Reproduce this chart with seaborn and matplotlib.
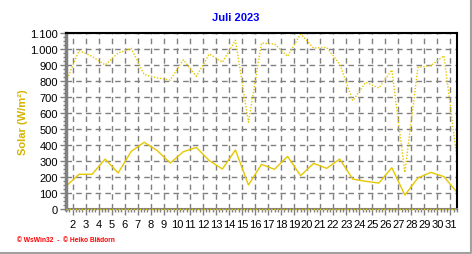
import matplotlib
matplotlib.use("Agg")
import matplotlib.pyplot as plt
from matplotlib.ticker import FixedLocator, MultipleLocator, FuncFormatter
from matplotlib.lines import Line2D
import seaborn as sns
import pandas as pd

days = list(range(1, 32))
solar_avg = [142, 217, 217, 312, 225, 360, 417, 365, 287, 358, 385, 302, 250, 369, 150,
             279, 248, 329, 208, 285, 254, 312, 187, 173, 162, 258, 87, 194, 229, 202, 104]
solar_max = [796, 990, 954, 900, 975, 1004, 840, 819, 806, 933, 829, 969, 917, 1055, 542,
             1037, 1031, 954, 1094, 1006, 1010, 906, 677, 792, 756, 869, 229, 885, 896, 958, 312]
solar_min = [0] * 31
x_labels = [str(d) for d in range(2, 32)]
y_ticks = list(range(0, 1101, 100))
title = "Juli 2023"
ylabel = "Solar (W/m²)"
footer = "© WsWin32  -  © Heiko Blädorn"

sns.set_style("white")
plt.rcParams['font.family'] = ['Liberation Sans', 'DejaVu Sans']

df = pd.DataFrame({"x": [d + 0.5 for d in days], "avg": solar_avg,
                   "max": solar_max, "min": solar_min})

fig = plt.figure(figsize=(4.72, 2.55), dpi=100)
ax = fig.add_axes([66/472, 1-210/255, (457-66)/472, (210-34)/255])

yellow = "#E6C800"
sns.lineplot(data=df, x="x", y="max", ax=ax, color=yellow, lw=1.0,
             linestyle=(0, (1, 1.2)))
sns.lineplot(data=df, x="x", y="avg", ax=ax, color=yellow, lw=1.0)
sns.lineplot(data=df, x="x", y="min", ax=ax, color=yellow, lw=1.0,
             linestyle=(0, (1, 1.2)), clip_on=False, zorder=5)

ax.set_xlim(1.5, 31.5)
ax.set_ylim(0, 1100)
ax.xaxis.set_major_locator(FixedLocator(list(range(2, 32))))
ax.set_xticklabels(x_labels)
ax.xaxis.set_minor_locator(MultipleLocator(0.25))
ax.set_yticks(y_ticks)
ax.yaxis.set_major_formatter(FuncFormatter(lambda v, p: f"{int(v):,}".replace(",", ".")))
ax.yaxis.set_minor_locator(MultipleLocator(25))

ax.grid(True, which="major", color="#808080", linestyle=(0, (4, 3)), lw=1.0)
ax.set_axisbelow(True)

ax.tick_params(axis="both", which="major", direction="out", length=4, width=1,
               color="#808080", labelsize=8, labelcolor="black", pad=2)
ax.tick_params(axis="both", which="minor", direction="out", length=2, width=1,
               color="#808080")
ax.tick_params(axis="x", which="major", pad=3)
ax.tick_params(bottom=True, left=True, which="both")

for s in ["top", "right"]:
    ax.spines[s].set_color("black")
    ax.spines[s].set_linewidth(1.5)
ax.spines["left"].set_color("#808080")
ax.spines["left"].set_linewidth(2.5)
ax.spines["bottom"].set_color("#808080")
ax.spines["bottom"].set_linewidth(1.5)

ax.set_xlabel("")
ax.set_ylabel(ylabel, color="#D6B400", fontsize=8, fontweight="bold")
ax.yaxis.set_label_coords((28-66)/391, 0.5)

fig.text(236/472, 1-18/255, title, color="#0000FF", fontsize=8, fontweight="bold",
         ha="center", va="center")
fig.text(17/472, 1-241/255, footer, color="#FF0000", fontsize=4.8, fontweight="bold",
         ha="left", va="center")

fig.add_artist(Line2D([470.5/472, 470.5/472], [1-253/255, 1], color="#A0A0A0", lw=1.5,
                      transform=fig.transFigure))
fig.add_artist(Line2D([0, 471/472], [1-253.5/255, 1-253.5/255], color="#A0A0A0", lw=1.5,
                      transform=fig.transFigure))

fig.savefig("out.png", dpi=100)
